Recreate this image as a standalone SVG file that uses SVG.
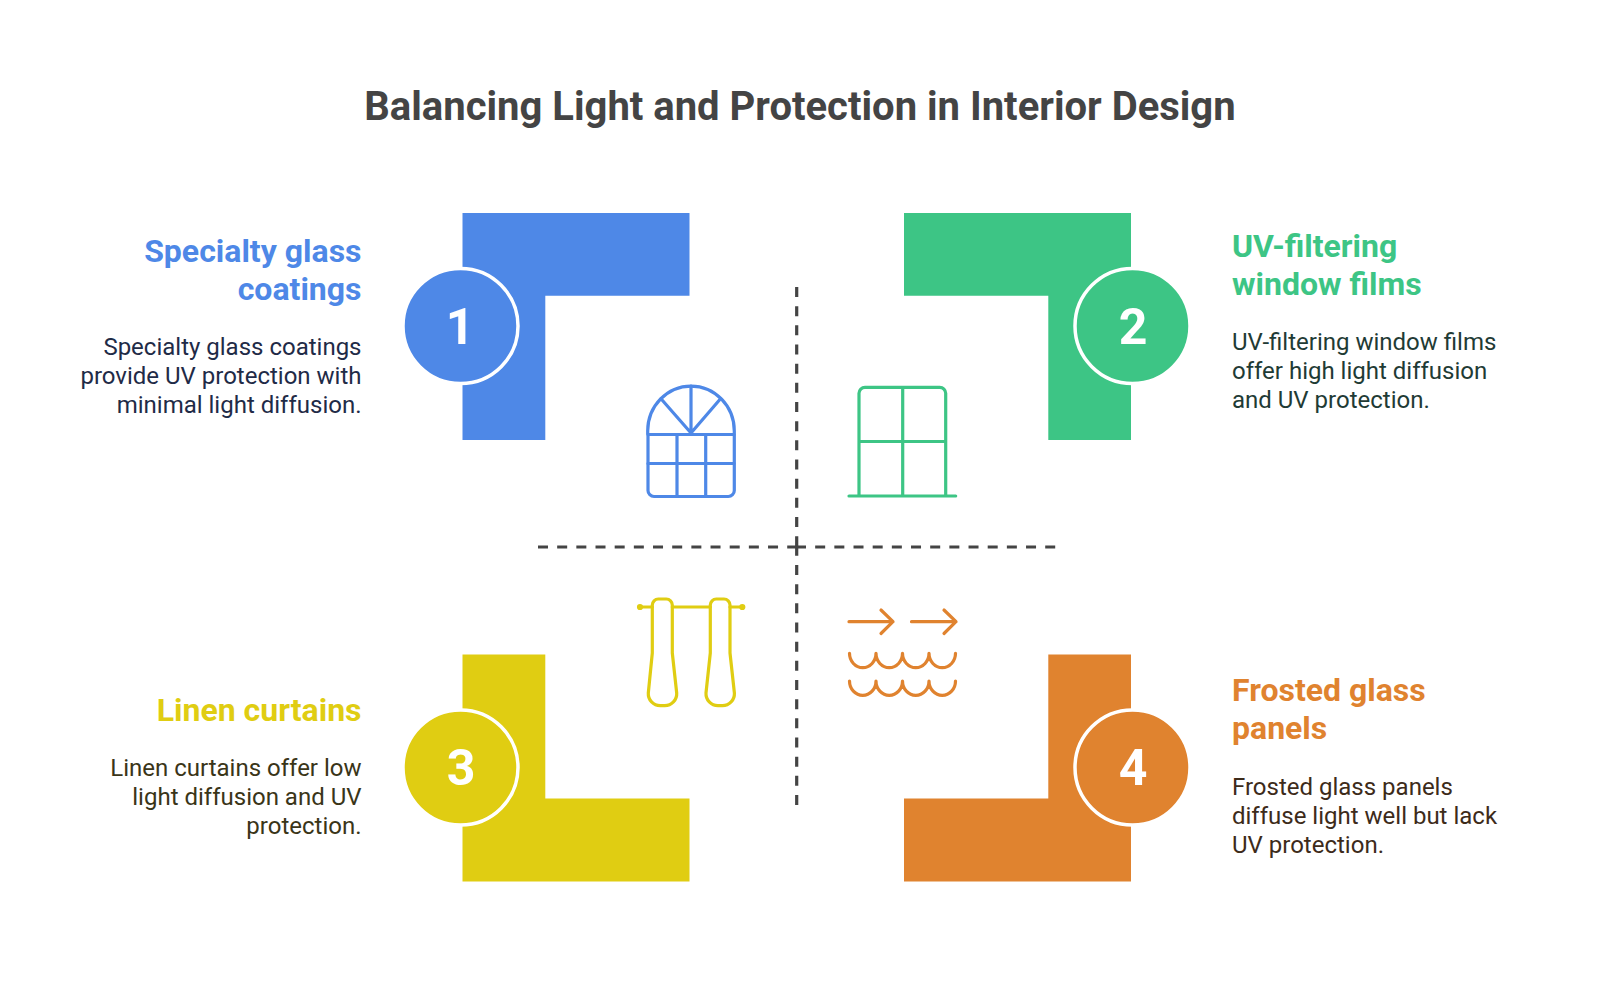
<svg xmlns="http://www.w3.org/2000/svg" width="1600" height="1000" viewBox="0 0 1600 1000">
<style>
text{font-family:Roboto,"Liberation Sans",sans-serif}
.title{font-size:40px;font-weight:700;fill:#444;text-anchor:middle}
.h{font-size:32px;font-weight:700}
.b{font-size:24px}
.r{text-anchor:end}
.num{font-size:50px;font-weight:700;fill:#fff;text-anchor:middle}
.ring{stroke:#fff;stroke-width:3.5}
.dash{fill:none;stroke:#444;stroke-width:3.2;stroke-dasharray:10 9.17}
.ic{fill:none;stroke-width:3.2;stroke-linecap:round;stroke-linejoin:round}
</style>
<rect width="1600" height="1000" fill="#fff"/>
<text class="title" x="800" y="119.500">Balancing Light and Protection in Interior Design</text>
<g id="connectors">
<path class="dash" d="M796.700 287V546"/>
<path class="dash" d="M796.700 545.800V806"/>
<path class="dash" d="M538 547H797"/>
<path class="dash" d="M796 547H1056"/>
</g>
<g id="node1">
<path fill="#4e88e7" d="M462.500 213H689.500V295.700H545.300V440H462.500Z"/>
<circle class="ring" fill="#4e88e7" cx="460.500" cy="326" r="57.500"/>
<text class="num" x="460" y="344">1</text>
<text class="h r" x="361.500" y="262" fill="#4e88e7">Specialty glass</text>
<text class="h r" x="361.500" y="300.400" fill="#4e88e7">coatings</text>
<g class="b r" fill="#1f2b47"><text x="361.500" y="355">Specialty glass coatings</text><text x="361.500" y="384">provide UV protection with</text><text x="361.500" y="413">minimal light diffusion.</text></g>
<g class="ic" stroke="#4e88e7"><path d="M647.700 434V431a43.300 45 0 0 1 86.600 0V490.500a6 6 0 0 1-6 6H654a6 6 0 0 1-6-6V434Z"/><path d="M648 434.500H734M648 463.500H734M677 434.500V496.500M705.700 434.500V496.500M691 433V386M691 433L661 398.700M691 433L720.500 398.700"/></g>
</g>
<g id="node2">
<path fill="#3dc585" d="M904 213H1131V440H1048.300V295.700H904Z"/>
<circle class="ring" fill="#3dc585" cx="1132.500" cy="326" r="57.500"/>
<text class="num" x="1133" y="344">2</text>
<text class="h" x="1232" y="257" fill="#3dc585">UV-filtering</text>
<text class="h" x="1232" y="295.400" fill="#3dc585">window films</text>
<g class="b" fill="#1f3b35"><text x="1232" y="350">UV-filtering window films</text><text x="1232" y="379">offer high light diffusion</text><text x="1232" y="408">and UV protection.</text></g>
<g class="ic" stroke="#3dc585"><path d="M859 496V393.300a6 6 0 0 1 6-6H939.700a6 6 0 0 1 6 6V496M902.700 387.300V496M859 441.500H945.700M849 496H955.700"/></g>
</g>
<g id="node3">
<path fill="#e0cd12" d="M462.500 654.500H545.300V798.500H689.500V881.500H462.500Z"/>
<circle class="ring" fill="#e0cd12" cx="460.500" cy="767.500" r="57.500"/>
<text class="num" x="461" y="785">3</text>
<text class="h r" x="361.500" y="721" fill="#e0cd12">Linen curtains</text>
<g class="b r" fill="#3a3518"><text x="361.500" y="776">Linen curtains offer low</text><text x="361.500" y="805">light diffusion and UV</text><text x="361.500" y="834">protection.</text></g>
<g class="ic" stroke="#e0cd12"><path d="M640 607H652.300M672.300 607H710.300M730 607H742.300"/><circle cx="640" cy="607" r="1.500"/><circle cx="742.300" cy="607" r="1.500"/><path d="M652.300 605a6 6 0 0 1 6-6H666.300a6 6 0 0 1 6 6V653L676.700 693a12 12 0 0 1-12 12.700H660.300a12 12 0 0 1-12-12.700L652.300 653Z"/><path d="M710.300 605a6 6 0 0 1 6-6H724a6 6 0 0 1 6 6V653L734.400 693a12 12 0 0 1-12 12.700H718a12 12 0 0 1-12-12.700L710.300 653Z"/></g>
</g>
<g id="node4">
<path fill="#e0832f" d="M1048.300 654.500H1131V881.500H904V798.500H1048.300Z"/>
<circle class="ring" fill="#e0832f" cx="1132.500" cy="767.500" r="57.500"/>
<text class="num" x="1133" y="785">4</text>
<text class="h" x="1232" y="701" fill="#e0832f">Frosted glass</text>
<text class="h" x="1232" y="739.400" fill="#e0832f">panels</text>
<g class="b" fill="#3d2b1a"><text x="1232" y="795">Frosted glass panels</text><text x="1232" y="824">diffuse light well but lack</text><text x="1232" y="853">UV protection.</text></g>
<g class="ic" stroke="#e0832f"><path d="M849 621.700H893M881 610L893 621.700L881 633.500M911.500 621.700H956M944 610L956 621.700L944 633.500"/><path d="M849.500 653.300a13.250 14.400 0 0 0 26.500 0a13.250 14.400 0 0 0 26.500 0a13.250 14.400 0 0 0 26.500 0a13.250 14.400 0 0 0 26.500 0"/><path d="M849.500 681a13.250 14.400 0 0 0 26.500 0a13.250 14.400 0 0 0 26.500 0a13.250 14.400 0 0 0 26.500 0a13.250 14.400 0 0 0 26.500 0"/></g>
</g>
</svg>
